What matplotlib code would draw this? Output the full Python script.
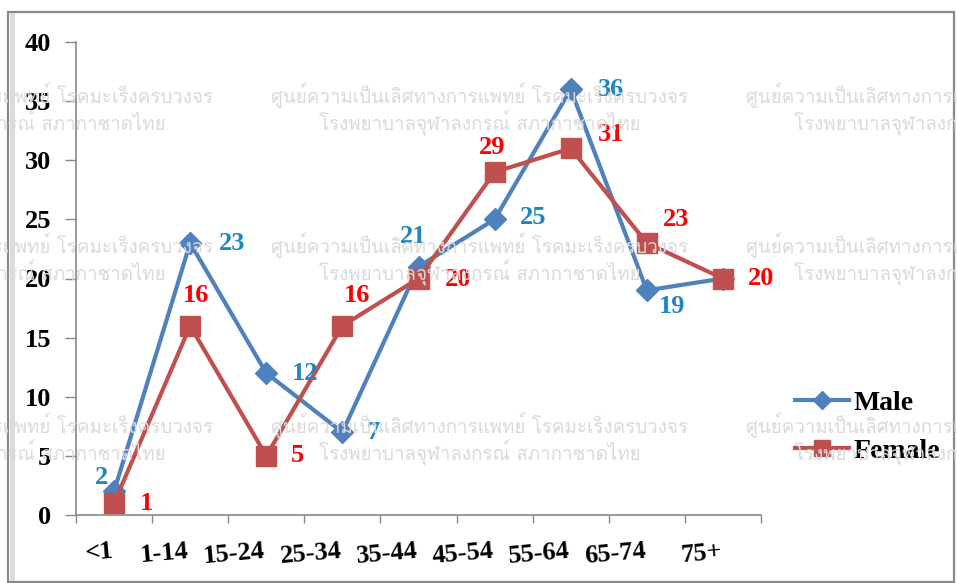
import numpy as np
import matplotlib
matplotlib.use("Agg")
import matplotlib.pyplot as plt
from matplotlib import font_manager
from matplotlib.ft2font import FT2Font
from matplotlib.patches import Rectangle

# age groups and case counts
age_groups = ["<1", "1-14", "15-24", "25-34", "35-44", "45-54", "55-64", "65-74", "75+"]
male = [2, 23, 12, 7, 21, 25, 36, 19, 20]
female = [1, 16, 5, 16, 20, 29, 31, 23, 20]

watermark_lines = ["ศูนย์ความเป็นเลิศทางการแพทย์ โรคมะเร็งครบวงจร",
                   "โรงพยาบาลจุฬาลงกรณ์ สภากาชาดไทย"]

# label offsets in pixels (dx, dy), None = no label
male_offsets = [(-13, 14), (42, 0), (39, 0), (31, 0), (-5, 30), (39, 2), (40, 0), (25, -16), None]
female_offsets = [(32, 0), (6, 30), (31, 0), (15, 30), (40, -1), (-2, 25), (40, 14), (29, 24), (38, 0)]

# find an installed font that has Thai glyphs
thai_font = "DejaVu Sans"
for f in font_manager.fontManager.ttflist:
    try:
        if 0x0E28 in FT2Font(f.fname).get_charmap():
            thai_font = f.name
            break
    except Exception:
        pass

plt.rcParams['font.family'] = ['Liberation Serif', 'DejaVu Serif']
plt.rcParams['font.weight'] = 'bold'

W, H = 957, 583
fig = plt.figure(figsize=(W / 100, H / 100), dpi=100)
fig.patch.set_facecolor('white')

# outer frame with a soft shadow on the left
fig.patches.append(Rectangle((8 / W, 1 / H), 946 / W, 570 / H, transform=fig.transFigure,
                             fill=False, edgecolor='#8a8a8a', lw=1.6, zorder=0))
fig.patches.append(Rectangle((10 / W, 2 / H), 5 / W, 568 / H, transform=fig.transFigure,
                             facecolor='#dcdcdc', edgecolor='none', zorder=0))

# watermark
for cx in [5, 480, 955]:
    for cy in [95, 245, 425]:
        for k, line in enumerate(watermark_lines):
            fig.text(cx / W, 1 - (cy + k * 28) / H, line, family=[thai_font, 'DejaVu Sans'],
                     fontsize=13.5, fontweight='normal', color='#dadada',
                     ha='center', va='center', zorder=0.5)

ax = fig.add_axes([76 / W, 1 - 515 / H, (761 - 76) / W, (515 - 42) / H])
ax.patch.set_alpha(0)
x = np.arange(len(age_groups))

ax.plot(x, male, color='#4f81bd', lw=3, marker='D', markersize=11.5,
        markerfacecolor='#4f81bd', markeredgecolor='#4f81bd', label='Male', zorder=3)
ax.plot(x, female, color='#c0504d', lw=3, marker='s', markersize=14.5,
        markerfacecolor='#c0504d', markeredgecolor='#c0504d', label='Female', zorder=4)

for xi, v, off in zip(x, male, male_offsets):
    if off is None:
        continue
    ax.annotate(str(v), (xi, v), xytext=(off[0] * 0.72, off[1] * 0.72), textcoords='offset points',
                ha='center', va='center', fontsize=19, color='#1f86c0', zorder=5)
for xi, v, off in zip(x, female, female_offsets):
    ax.annotate(str(v), (xi, v), xytext=(off[0] * 0.72, off[1] * 0.72), textcoords='offset points',
                ha='center', va='center', fontsize=19, color='#ff0000', zorder=5)

ax.set_xlim(-0.5, len(age_groups) - 0.5)
ax.set_ylim(0, 40)
ax.set_yticks(np.arange(0, 41, 5))
ax.tick_params(axis='y', length=8, width=1, color='#888888', labelsize=19, pad=10)

# tick marks between groups, labels under each group
ax.set_xticks(np.arange(-0.5, len(age_groups), 1))
ax.set_xticklabels([])
ax.set_xticks(x, minor=True)
ax.set_xticklabels(age_groups, minor=True, rotation=5, ha='right', fontsize=19)
ax.tick_params(axis='x', which='major', length=6, width=1, color='#888888')
ax.tick_params(axis='x', which='minor', length=0, pad=18)

for s in ['top', 'right']:
    ax.spines[s].set_visible(False)
for s in ['left', 'bottom']:
    ax.spines[s].set_color('#888888')
    ax.spines[s].set_linewidth(1.2)

ax.legend(loc='center left', bbox_to_anchor=(795 / W, 1 - 427 / H), bbox_transform=fig.transFigure,
          frameon=False, fontsize=20, handlelength=1.95, handletextpad=0.15, labelspacing=0.8,
          borderpad=0, borderaxespad=0, markerscale=0.8)

fig.savefig('out.png', dpi=100)
